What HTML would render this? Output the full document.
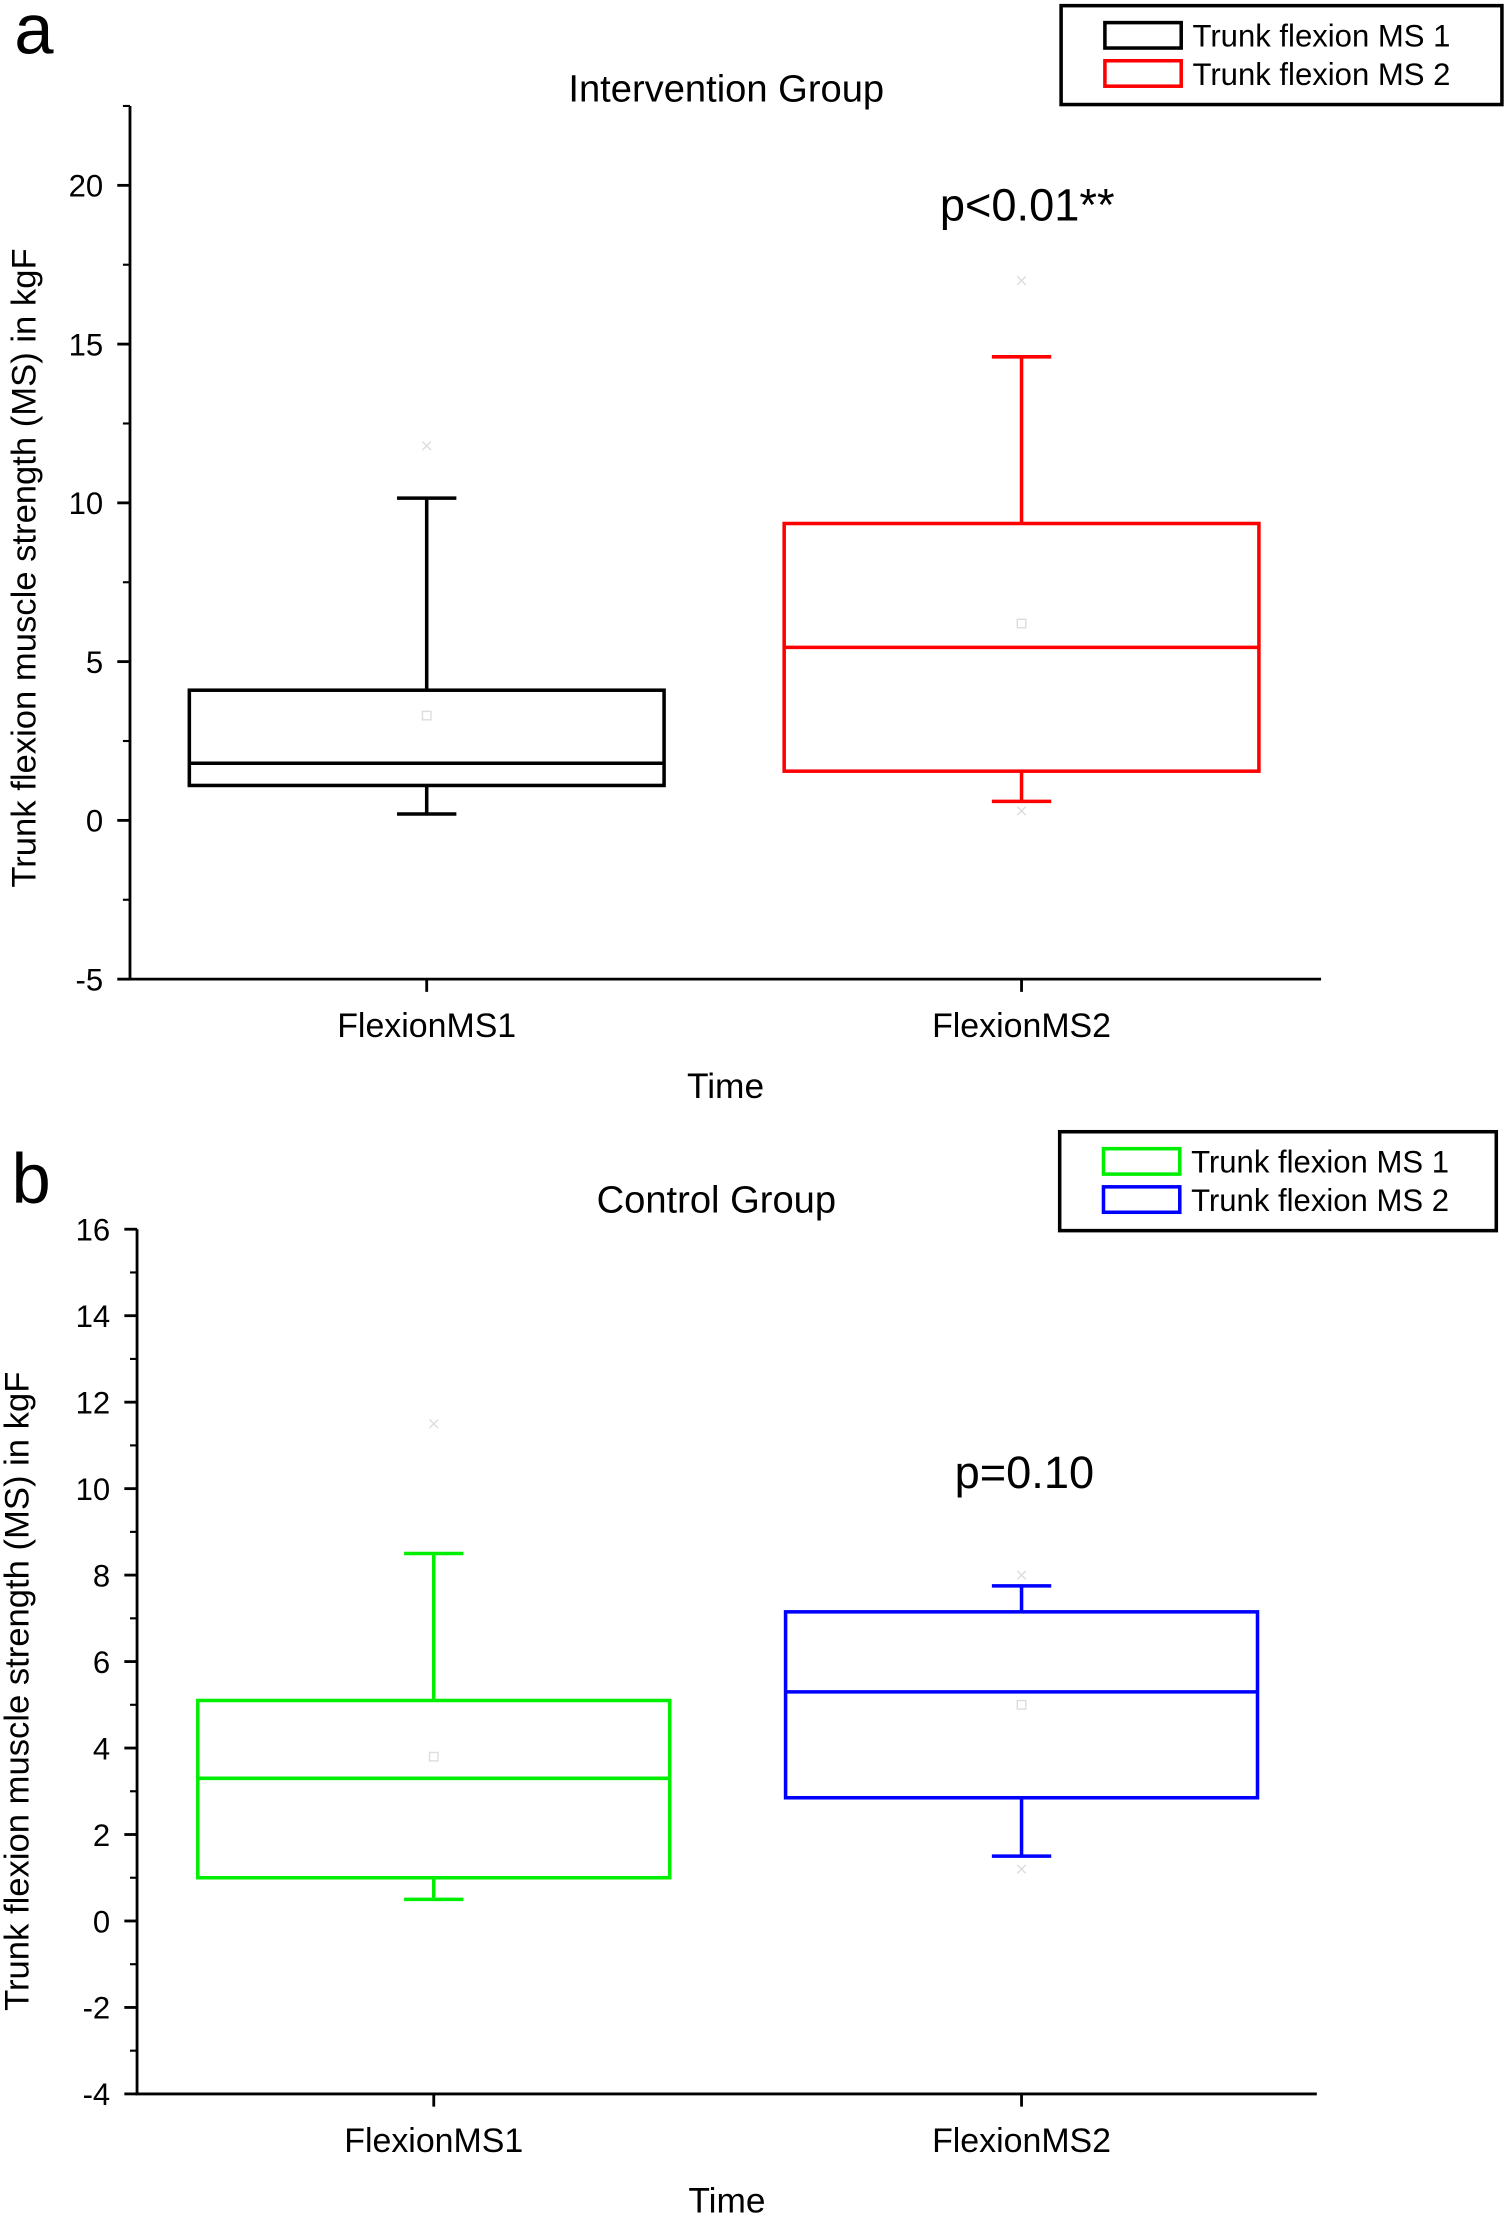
<!DOCTYPE html>
<html><head><meta charset="utf-8"><style>
html,body{margin:0;padding:0;background:#fff}
svg{display:block;font-family:"Liberation Sans",Arial,sans-serif}
</style></head><body>
<svg id="chart" width="1509" height="2215" viewBox="0 0 1068 1567.7" preserveAspectRatio="none" xmlns="http://www.w3.org/2000/svg"></svg>
<script>
// Panel a data
const catsA = ["FlexionMS1","FlexionMS2"];
const lowA = [0.2, 0.6];
const q1A = [1.1, 1.55];
const medA = [1.8, 5.45];
const q3A = [4.1, 9.35];
const highA = [10.15, 14.6];
const meanA = [3.3, 6.2];
const outHiA = [11.8, 17.0];
const outLoA = [null, 0.3];
const ticksA = [-5, 0, 5, 10, 15, 20];
// Panel b data
const catsB = ["FlexionMS1","FlexionMS2"];
const lowB = [0.5, 1.5];
const q1B = [1.0, 2.85];
const medB = [3.3, 5.3];
const q3B = [5.1, 7.15];
const highB = [8.5, 7.75];
const meanB = [3.8, 5.0];
const outHiB = [11.5, 8.0];
const outLoB = [null, 1.2];
const ticksB = [-4, -2, 0, 2, 4, 6, 8, 10, 12, 14, 16];

const svg = document.getElementById('chart');
const NS = 'http://www.w3.org/2000/svg';
function el(tag, attrs, parent){const e=document.createElementNS(NS,tag);for(const k in attrs)e.setAttribute(k,attrs[k]);(parent||svg).appendChild(e);return e;}
function txt(x,y,s,size,anchor,parent,extra){const t=el('text',Object.assign({x:x,y:y,'font-size':size,'text-anchor':anchor||'middle',fill:'#000'},extra||{}),parent);t.textContent=s;return t;}

function panel(cfg){
  const g = el('g',{});
  
  
  const y = v => cfg.y0 + (v - cfg.vmin) * (cfg.y1 - cfg.y0) / (cfg.vmax - cfg.vmin);
  const xc = i => cfg.centers[i];
  const ax = el('path',{d:`M${cfg.xl} ${cfg.yTop} V${cfg.y0} H${cfg.xr}`,stroke:'#000','stroke-width':2,fill:'none'},g);
  
  
  for(let v=cfg.vmin; v<=cfg.vmax+1e-9; v+=cfg.minor){
    el('line',{x1:cfg.xl-5,x2:cfg.xl,y1:y(v),y2:y(v),stroke:'#000','stroke-width':1.5},g);
  }
  cfg.ticks.forEach(v=>{
    el('line',{x1:cfg.xl-9,x2:cfg.xl,y1:y(v),y2:y(v),stroke:'#000','stroke-width':2},g);
    const t = txt(cfg.xl-19, y(v)+8, String(v), 22, 'end', g);
    
    
  });
  cfg.cats.forEach((c,i)=>{
    el('line',{x1:xc(i),x2:xc(i),y1:cfg.y0,y2:cfg.y0+9,stroke:'#000','stroke-width':2},g);
    const t = txt(xc(i), cfg.y0+41, c, 24, 'middle', g);
    
    
  });
  const xt = txt((cfg.xl+cfg.xr)/2, cfg.y0+84, 'Time', 25, 'middle', g);
  
  
  const yl = txt(0,0,'Trunk flexion muscle strength (MS) in kgF',24.5,'middle',g,{transform:`translate(${cfg.ylx},${cfg.yly}) rotate(-90)`});
  
  
  const tt = txt(cfg.titleX, cfg.titleY, cfg.title, 27, 'middle', g);
  
  
  const pv = txt(cfg.pX, cfg.pY, cfg.p, 32, 'middle', g);
  
  
  const lt = txt(cfg.letterX, cfg.letterY, cfg.letter, 50, 'middle', g);
  
  
  cfg.cats.forEach((c,i)=>{
    const col = cfg.colors[i], hw = cfg.boxHalf, cw = 21;
    const bg = el('g',{stroke:col,'stroke-width':2.5,fill:'none'},g);
    
    
    el('rect',{x:xc(i)-hw,y:y(cfg.q3[i]),width:2*hw,height:y(cfg.q1[i])-y(cfg.q3[i])},bg);
    el('line',{x1:xc(i)-hw,x2:xc(i)+hw,y1:y(cfg.med[i]),y2:y(cfg.med[i])},bg);
    el('line',{x1:xc(i),x2:xc(i),y1:y(cfg.q3[i]),y2:y(cfg.high[i])},bg);
    el('line',{x1:xc(i),x2:xc(i),y1:y(cfg.q1[i]),y2:y(cfg.low[i])},bg);
    el('line',{x1:xc(i)-cw,x2:xc(i)+cw,y1:y(cfg.high[i]),y2:y(cfg.high[i])},bg);
    el('line',{x1:xc(i)-cw,x2:xc(i)+cw,y1:y(cfg.low[i]),y2:y(cfg.low[i])},bg);
    const mg = el('g',{stroke:'#ddd','stroke-width':1,fill:'none'},g);
    el('rect',{x:xc(i)-3,y:y(cfg.mean[i])-3,width:6,height:6},mg);
    [cfg.outHi[i],cfg.outLo[i]].forEach(v=>{ if(v==null)return;
      el('path',{d:`M${xc(i)-3} ${y(v)-3}l6 6M${xc(i)+3} ${y(v)-3}l-6 6`},mg);});
  });
  const L = cfg.legend;
  const lg = el('g',{},g);
  
  
  el('rect',{x:L.x,y:L.y,width:L.w,height:L.h,fill:'#fff',stroke:'#000','stroke-width':2.5},lg);
  cfg.colors.forEach((col,i)=>{
    const yy = L.y+21+i*27;
    el('rect',{x:L.x+31,y:yy-9,width:54,height:18,fill:'none',stroke:col,'stroke-width':2.5},lg);
    const t = txt(L.x+93, yy+8, 'Trunk flexion MS '+(i+1), 22, 'start', lg);
    
    
  });
}

panel({name:'panel-a',vmin:-5,vmax:22.5,y0:693,y1:75,yTop:75,xl:92,xr:935,minor:2.5,ticks:ticksA,cats:catsA,
  centers:[302,723],boxHalf:168,colors:['#000','#ff0000'],low:lowA,q1:q1A,med:medA,q3:q3A,high:highA,mean:meanA,outHi:outHiA,outLo:outLoA,
  title:'Intervention Group',titleX:514,titleY:72,p:'p<0.01**',pX:727,pY:156,letter:'a',letterX:24,letterY:38,ylx:25,yly:402,
  legend:{x:751,y:4,w:312,h:70}});
panel({name:'panel-b',vmin:-4,vmax:16,y0:1482,y1:870,yTop:870,xl:97,xr:932,minor:1,ticks:ticksB,cats:catsB,
  centers:[307,723],boxHalf:167,colors:['#00ee00','#0000ff'],low:lowB,q1:q1B,med:medB,q3:q3B,high:highB,mean:meanB,outHi:outHiB,outLo:outLoB,
  title:'Control Group',titleX:507,titleY:858,p:'p=0.10',pX:725,pY:1053,letter:'b',letterX:22,letterY:851,ylx:20,yly:1197,
  legend:{x:750,y:801,w:309,h:70}});
</script>
</body></html>
